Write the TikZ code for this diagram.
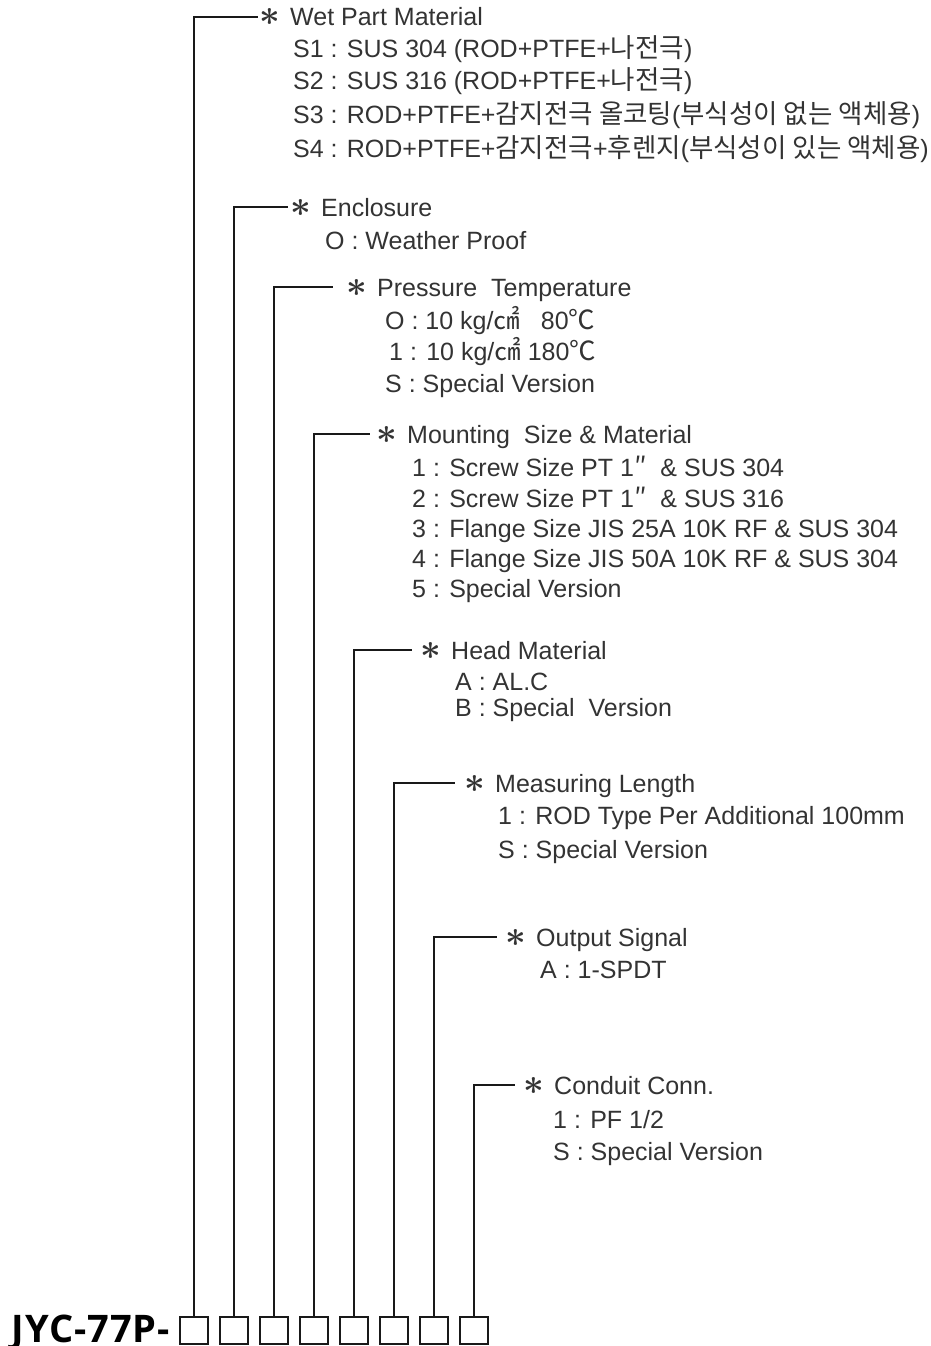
\documentclass[tikz,border=0pt]{standalone}
\usepackage{fontspec}
\usepackage{graphicx}
\setmainfont{Liberation Sans}
\newfontfamily\kr[Scale=1.06]{Noto Sans CJK KR}
\newfontfamily\modelfont[LetterSpace=2.5]{Open Sans}
\newcommand{\hd}[1]{\makebox[12pt]{\scalebox{1.45}{\boldmath$\ast$}}\hspace{14pt}#1}
\tikzset{
  code/.style={draw=black!90, line width=1.8pt, minimum width=28.2pt, minimum height=27.2pt, inner sep=0pt},
  lead/.style={draw=black!90, line width=1.8pt},
  opt/.style={anchor=west, inner sep=0pt, text=black!80, text height=18pt, text depth=0pt,
    font=\fontsize{25}{30}\selectfont},
}
\begin{document}
\begin{tikzpicture}[x=1pt,y=-1pt]
  \useasboundingbox (0,0) rectangle (931,1346);
  % code boxes
  \foreach \i in {1,...,8}{
    \node[code] (c\i) at (154+40*\i,1330.5) {};
  }
  \node[anchor=base east, inner sep=0pt, font=\modelfont\bfseries\fontsize{38}{40}\selectfont] (model) at (170,1342) {JYC-77P-};
  % headings
  \node[opt] (h1) at (264,17) {\hd{Wet Part Material}};
  \node[opt] (h2) at (295,207) {\hd{Enclosure}};
  \node[opt] (h3) at (351,287) {\hd{Pressure\ \ Temperature}};
  \node[opt] (h4) at (381,434) {\hd{Mounting\ \ Size \& Material}};
  \node[opt] (h5) at (425,650) {\hd{Head Material}};
  \node[opt] (h6) at (469,783) {\hd{Measuring Length}};
  \node[opt] (h7) at (510,937) {\hd{Output Signal}};
  \node[opt] (h8) at (528,1085) {\hd{Conduit Conn.}};
  % options
  \foreach \y/\t [count=\j] in {48/{S1 : SUS 304 (ROD+PTFE+{\kr 나전극})},
      80/{S2 : SUS 316 (ROD+PTFE+{\kr 나전극})},
      114/{S3 : ROD+PTFE+{\kr 감지전극 올코팅}({\kr 부식성이 없는 액체용})},
      148/{S4 : ROD+PTFE+{\kr 감지전극}+{\kr 후렌지}({\kr 부식성이 있는 액체용})}}
    \node[opt] (o1-\j) at (293,\y) {\t};
  \node[opt] (o2-1) at (325,240) {O : Weather Proof};
  \foreach \y/\t [count=\j] in {320/{O : 10 kg/{\kr ㎠}\ \ \ 80{\kr ℃}},
      351/{\hspace*{4pt}1 : 10 kg/{\kr ㎠} 180{\kr ℃}},
      383/{S : Special Version}}
    \node[opt] (o3-\j) at (385,\y) {\t};
  \foreach \y/\t [count=\j] in {467/{1 : Screw Size PT 1{\kr ″}\ \ \& SUS 304},
      498/{2 : Screw Size PT 1{\kr ″}\ \ \& SUS 316},
      528/{3 : Flange Size JIS 25A 10K RF \& SUS 304},
      558/{4 : Flange Size JIS 50A 10K RF \& SUS 304},
      588/{5 : Special Version}}
    \node[opt] (o4-\j) at (412,\y) {\t};
  \node[opt] (o5-1) at (455,681) {A : AL.C};
  \node[opt] (o5-2) at (455,707) {B : Special\ \ Version};
  \node[opt] (o6-1) at (498,815) {1 : ROD Type Per Additional 100mm};
  \node[opt] (o6-2) at (498,849) {S : Special Version};
  \node[opt] (o7-1) at (540,969) {A : 1-SPDT};
  \node[opt] (o8-1) at (553,1119) {1 : PF 1/2};
  \node[opt] (o8-2) at (553,1151) {S : Special Version};
  % leaders
  \foreach \i/\g in {1/6,2/7,3/18,4/11,5/13,6/14,7/13,8/13}{
    \draw[lead] (c\i.north) |- ([xshift=-\g pt]h\i.west);
  }
\end{tikzpicture}
\end{document}
